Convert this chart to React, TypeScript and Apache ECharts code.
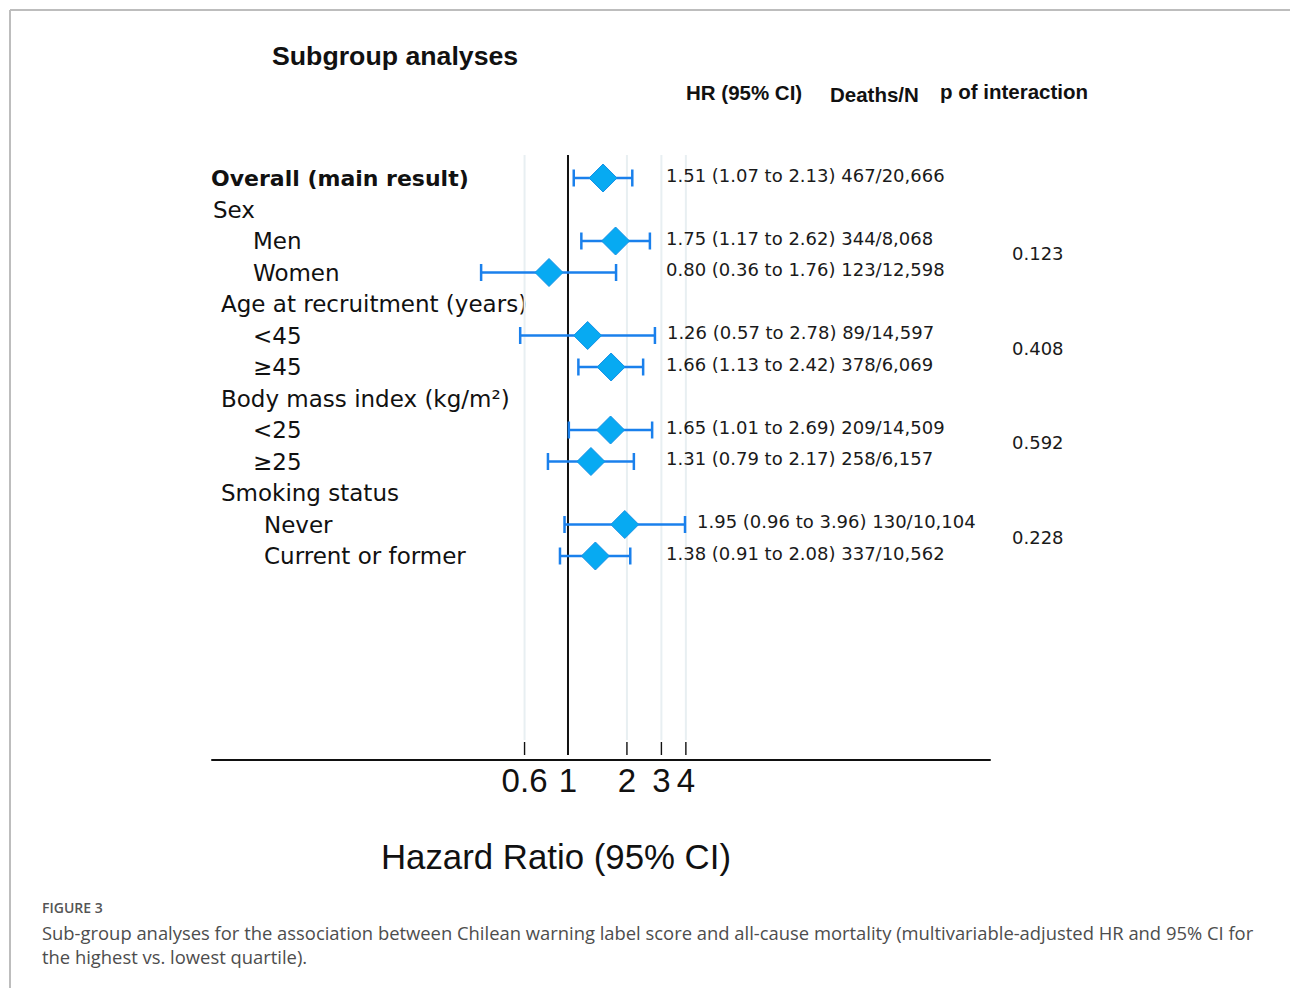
import React, { useEffect, useRef } from "react";
import * as echarts from "echarts";

// ---------- data ----------
const rowLabels = [
  "Overall (main result)",
  "Sex",
  "Men",
  "Women",
  "Age at recruitment (years)",
  "<45",
  "≥45",
  "Body mass index (kg/m²)",
  "<25",
  "≥25",
  "Smoking status",
  "Never",
  "Current or former",
];
const rowKinds = ["main", "top", "sub", "sub", "group", "sub", "sub", "group", "sub", "sub", "group", "sub2", "sub2"];

const estimateRows = ["Overall (main result)", "Men", "Women", "<45", "≥45", "<25", "≥25", "Never", "Current or former"];
const hazardRatios = [1.51, 1.75, 0.8, 1.26, 1.66, 1.65, 1.31, 1.95, 1.38];
const ciLower = [1.07, 1.17, 0.36, 0.57, 1.13, 1.01, 0.79, 0.96, 0.91];
const ciUpper = [2.13, 2.62, 1.76, 2.78, 2.42, 2.69, 2.17, 3.96, 2.08];
const deathsN = ["467/20,666", "344/8,068", "123/12,598", "89/14,597", "378/6,069", "209/14,509", "258/6,157", "130/10,104", "337/10,562"];

const interactionPairs = [
  ["Men", "Women"],
  ["<45", "≥45"],
  ["<25", "≥25"],
  ["Never", "Current or former"],
];
const interactionP = ["0.123", "0.408", "0.592", "0.228"];

const tickValues = [0.6, 1, 2, 3, 4];
const tickLabels = ["0.6", "1", "2", "3", "4"];
const referenceValue = 1;

const captionTitle = "FIGURE 3";
const captionLines = [
  "Sub-group analyses for the association between Chilean warning label score and all-cause mortality (multivariable-adjusted HR and 95% CI for",
  "the highest vs. lowest quartile).",
];

// ---------- styles / layout ----------
const BAR = "#1a80ec";
const DIAMOND = "#07aaf2";
const DIAMOND_EDGE = "#1590e6";
const BODY_FONT = '"DejaVu Sans", sans-serif';
const HEAD_FONT = '"Liberation Sans", Arial, sans-serif';
const LINE_TOP = 155;
const GRID_LINE_BOTTOM = 740;
const TICK_TOP = 742;
const TICK_BOTTOM = 755;
const TICK_LABEL_Y = 780;

function buildOption() {
  const estimateData = estimateRows.map((r, i) => [hazardRatios[i], ciLower[i], ciUpper[i], rowLabels.indexOf(r)]);
  const pData = interactionPairs.map(([a, b]) => [1, rowLabels.indexOf(a), rowLabels.indexOf(b)]);
  const tickData = tickValues.map((v) => [v, 0]);

  const labelStyle = { fontFamily: BODY_FONT, fontSize: 23, color: "#111" };

  return {
    animation: false,
    backgroundColor: "#ffffff",
    grid: { left: 212, right: 300, top: 178, bottom: 432, containLabel: false, outerBoundsMode: "none" },
    xAxis: {
      type: "log",
      logBase: 10,
      min: 0.0152,
      max: 143,
      offset: 204,
      axisLine: { show: true, lineStyle: { color: "#111", width: 2 } },
      axisTick: { show: false },
      axisLabel: { show: false },
      splitLine: { show: false },
    },
    yAxis: {
      type: "category",
      data: rowLabels,
      inverse: true,
      boundaryGap: false,
      axisLine: { show: false },
      axisTick: { show: false },
      splitLine: { show: false },
      axisLabel: {
        interval: 0,
        align: "left",
        margin: 1,
        formatter: (v: string, i: number) => `{${rowKinds[i]}|${v}}`,
        rich: {
          main: { fontFamily: BODY_FONT, fontSize: 22, fontWeight: "bold", color: "#111" },
          top: { ...labelStyle, padding: [0, 0, 0, 2] },
          group: { ...labelStyle, padding: [0, 0, 0, 10] },
          sub: { ...labelStyle, padding: [0, 0, 0, 42] },
          sub2: { ...labelStyle, padding: [0, 0, 0, 53] },
        },
      },
    },
    series: [
      {
        type: "custom",
        name: "axisTicks",
        z: 1,
        clip: false,
        data: tickData,
        encode: { x: 0, y: 1 },
        renderItem: (params: any, api: any) => {
          const v = api.value(0);
          const x = api.coord([v, 0])[0];
          const children: any[] = [];
          if (v === referenceValue) {
            children.push({
              type: "line",
              shape: { x1: x, y1: LINE_TOP, x2: x, y2: TICK_BOTTOM },
              style: { stroke: "#111", lineWidth: 2 },
            });
          } else {
            children.push({
              type: "line",
              shape: { x1: x, y1: LINE_TOP, x2: x, y2: GRID_LINE_BOTTOM },
              style: { stroke: "#e8eff2", lineWidth: 2 },
            });
            children.push({
              type: "line",
              shape: { x1: x, y1: TICK_TOP, x2: x, y2: TICK_BOTTOM },
              style: { stroke: "#111", lineWidth: 1.4 },
            });
          }
          children.push({
            type: "text",
            x: x,
            y: TICK_LABEL_Y,
            style: {
              text: tickLabels[params.dataIndex],
              font: `33px ${HEAD_FONT}`,
              fill: "#111",
              align: "center",
              verticalAlign: "middle",
            },
          });
          return { type: "group", children };
        },
      },
      {
        type: "custom",
        name: "estimates",
        z: 3,
        clip: false,
        data: estimateData,
        encode: { x: [0, 1, 2], y: 3 },
        renderItem: (params: any, api: any) => {
          const hr = api.value(0);
          const lo = api.value(1);
          const hi = api.value(2);
          const row = api.value(3);
          const c = api.coord([hr, row]);
          const xc = c[0];
          const y = c[1];
          const xl = api.coord([lo, row])[0];
          const xh = api.coord([hi, row])[0];
          const i = params.dataIndex;
          const text = `${hr.toFixed(2)} (${lo.toFixed(2)} to ${hi.toFixed(2)}) ${deathsN[i]}`;
          const tx = Math.max(666, xh + 12);
          const d = 14;
          const cap = 8.5;
          return {
            type: "group",
            children: [
              { type: "line", shape: { x1: xl, y1: y, x2: xh, y2: y }, style: { stroke: BAR, lineWidth: 2.5 } },
              { type: "line", shape: { x1: xl, y1: y - cap, x2: xl, y2: y + cap }, style: { stroke: BAR, lineWidth: 2.5 } },
              { type: "line", shape: { x1: xh, y1: y - cap, x2: xh, y2: y + cap }, style: { stroke: BAR, lineWidth: 2.5 } },
              {
                type: "polygon",
                shape: { points: [[xc - d, y], [xc, y - d], [xc + d, y], [xc, y + d]] },
                style: { fill: DIAMOND, stroke: DIAMOND_EDGE, lineWidth: 1 },
              },
              {
                type: "text",
                x: tx,
                y: y - 3,
                style: { text, font: `18px ${BODY_FONT}`, fill: "#1a1a1a", align: "left", verticalAlign: "middle" },
              },
            ],
          };
        },
      },
      {
        type: "custom",
        name: "interaction",
        z: 3,
        clip: false,
        data: pData,
        encode: { x: 0, y: [1, 2] },
        renderItem: (params: any, api: any) => {
          const ya = api.coord([1, api.value(1)])[1];
          const yb = api.coord([1, api.value(2)])[1];
          return {
            type: "text",
            x: 1012,
            y: (ya + yb) / 2 - 3,
            style: {
              text: interactionP[params.dataIndex],
              font: `18px ${BODY_FONT}`,
              fill: "#1a1a1a",
              align: "left",
              verticalAlign: "middle",
            },
          };
        },
      },
    ],
    graphic: [
      { type: "line", shape: { x1: 10, y1: 10, x2: 1290, y2: 10 }, style: { stroke: "#bdbdbd", lineWidth: 2 } },
      { type: "line", shape: { x1: 10, y1: 10, x2: 10, y2: 988 }, style: { stroke: "#bdbdbd", lineWidth: 2 } },
      {
        type: "text",
        x: 272,
        y: 56,
        style: { text: "Subgroup analyses", font: `bold 26.7px ${HEAD_FONT}`, fill: "#111", align: "left", verticalAlign: "middle" },
      },
      {
        type: "text",
        x: 686,
        y: 92,
        style: { text: "HR (95% CI)", font: `bold 20.5px ${HEAD_FONT}`, fill: "#111", align: "left", verticalAlign: "middle" },
      },
      {
        type: "text",
        x: 830,
        y: 94,
        style: { text: "Deaths/N", font: `bold 20.5px ${HEAD_FONT}`, fill: "#111", align: "left", verticalAlign: "middle" },
      },
      {
        type: "text",
        x: 940,
        y: 91,
        style: { text: "p of interaction", font: `bold 20.5px ${HEAD_FONT}`, fill: "#111", align: "left", verticalAlign: "middle" },
      },
      {
        type: "text",
        x: 556,
        y: 856,
        style: { text: "Hazard Ratio (95% CI)", font: `34.8px ${HEAD_FONT}`, fill: "#111", align: "center", verticalAlign: "middle" },
      },
      {
        type: "text",
        x: 42,
        y: 907,
        style: { text: captionTitle, font: `600 14px "Open Sans", sans-serif`, fill: "#555", align: "left", verticalAlign: "middle" },
      },
      {
        type: "text",
        x: 42,
        y: 932,
        style: { text: captionLines[0], font: `18.4px "Open Sans", sans-serif`, fill: "#4d4d4d", align: "left", verticalAlign: "middle" },
      },
      {
        type: "text",
        x: 42,
        y: 956,
        style: { text: captionLines[1], font: `18.4px "Open Sans", sans-serif`, fill: "#4d4d4d", align: "left", verticalAlign: "middle" },
      },
    ],
  };
}

export default function App() {
  const ref = useRef<HTMLDivElement>(null);
  useEffect(() => {
    if (!ref.current) return;
    const chart = echarts.init(ref.current, null, { renderer: "svg" });
    chart.setOption(buildOption() as any);
    return () => {
      chart.dispose();
    };
  }, []);
  return (
    <div
      ref={ref}
      style={{ position: "absolute", left: 0, top: 0, width: 1290, height: 988, background: "#ffffff" }}
    />
  );
}
